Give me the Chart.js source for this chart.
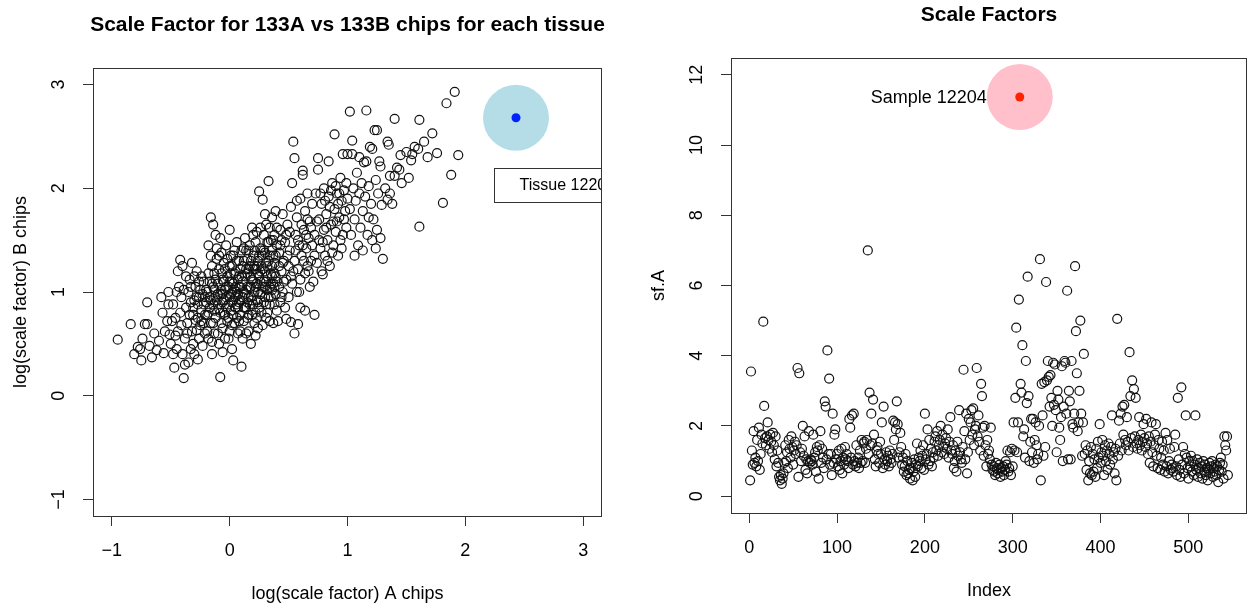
<!DOCTYPE html>
<html>
<head>
<meta charset="utf-8">
<script src="https://cdn.jsdelivr.net/npm/chart.js@4.4.1/dist/chart.umd.min.js"></script>
<style>
  html, body { margin: 0; padding: 0; background: #fff; }
  .panel { position: absolute; top: 0; width: 625px; height: 606px; }
  #leftPanel { left: 0; }
  #rightPanel { left: 625px; }
</style>
</head>
<body>
<div class="panel" id="leftPanel"><canvas id="chipChart" width="625" height="606"></canvas></div>
<div class="panel" id="rightPanel"><canvas id="sfChart" width="625" height="606"></canvas></div>
<script>
// left panel: log(scale factor) of A chips vs B chips, one pair per tissue
const tissuePairs = [
  [-0.95,0.54],[-0.84,0.69],[-0.70,0.90],[-0.74,0.55],[-0.81,0.40],[-0.75,0.34],[-0.66,0.37],[-0.72,0.69],
  [-0.70,0.69],[-0.57,0.80],[-0.60,0.53],[-0.55,0.62],[-0.78,0.47],[-0.68,0.48],[-0.62,0.44],[-0.53,0.72],
  [-0.58,0.95],[-0.52,0.88],[-0.64,0.60],[-0.50,0.50],[-0.56,0.41],[-0.52,1.00],[-0.51,0.59],[-0.76,0.45],
  [-0.47,0.27],[-0.39,0.17],[-0.42,1.31],[-0.45,0.45],[-0.44,0.62],[-0.46,0.75],[-0.48,0.88],[-0.41,0.95],
  [-0.43,1.05],[-0.40,0.40],[-0.38,0.55],[-0.36,0.70],[-0.37,0.85],[-0.35,1.00],[-0.34,1.12],[-0.33,0.45],
  [-0.32,0.62],[-0.31,0.78],[-0.30,0.92],[-0.29,1.05],[-0.28,1.20],[-0.27,0.35],[-0.26,0.55],[-0.25,0.68],
  [-0.24,0.83],[-0.23,0.98],[-0.22,1.10],[-0.21,0.60],[-0.44,1.20],[-0.40,1.25],[-0.37,1.15],[-0.35,0.32],
  [-0.31,0.50],[-0.29,0.73],[-0.27,0.88],[-0.25,1.02],[-0.23,0.48],[-0.21,0.78],[-0.46,0.58],[-0.42,0.80],
  [-0.39,1.02],[-0.33,0.90],[-0.30,0.40],[-0.26,0.95],[-0.24,1.15],[-0.22,0.70],[-0.48,0.40],[-0.36,0.60],
  [-0.28,0.63],[-0.20,0.90],[-0.45,1.00],[-0.41,0.68],[-0.34,0.78],[-0.32,1.28],[-0.38,0.30],[-0.49,0.72],
  [-0.19,0.62],[-0.18,0.80],[-0.18,1.45],[-0.17,0.95],[-0.17,1.10],[-0.16,1.72],[-0.16,0.70],[-0.15,1.25],
  [-0.15,0.52],[-0.14,1.65],[-0.14,0.88],[-0.13,1.02],[-0.13,1.18],[-0.12,0.75],[-0.12,1.55],[-0.11,0.92],
  [-0.11,1.32],[-0.10,0.60],[-0.10,1.08],[-0.09,0.84],[-0.09,1.22],[-0.08,0.18],[-0.08,0.98],[-0.07,0.70],
  [-0.07,1.38],[-0.06,0.90],[-0.06,1.12],[-0.05,0.80],[-0.05,1.28],[-0.04,0.55],[-0.04,1.02],[-0.03,0.95],
  [-0.03,1.45],[-0.02,0.72],[-0.02,1.15],[-0.01,0.88],[-0.01,1.05],[0.00,0.62],[0.00,1.60],[0.00,1.25],
  [0.01,0.98],[0.01,0.82],[0.02,1.10],[0.02,0.45],[0.03,0.34],[0.03,1.35],[0.03,0.92],[0.04,1.02],
  [0.04,0.70],[0.05,1.20],[0.05,0.85],[0.06,1.48],[0.06,1.00],[0.07,0.60],[0.07,1.12],[0.08,0.90],
  [0.08,1.30],[0.09,0.78],[0.09,1.05],[0.10,0.28],[-0.19,1.00],[-0.15,0.40],[-0.13,0.60],[-0.11,1.42],
  [-0.09,0.50],[-0.06,0.65],[-0.04,0.78],[-0.02,1.32],[0.00,0.95],[0.02,0.68],[0.04,1.40],[0.06,0.75],
  [0.08,1.15],[-0.17,0.85],[-0.14,1.05],[-0.10,0.88],[-0.07,1.02],[-0.03,0.85],[0.01,1.18],[0.05,0.95],
  [0.09,1.22],[-0.12,0.95],[-0.05,1.10],[0.02,0.90],[0.07,0.98],[-0.16,1.35],[-0.08,1.52],[-0.01,0.55],
  [0.03,1.08],[0.06,0.88],[-0.18,0.55],[-0.06,0.42],[0.09,0.62],[0.10,1.40],
  [0.11,0.95],[0.11,1.10],[0.12,0.72],[0.12,1.30],[0.13,0.85],[0.13,1.52],[0.14,1.02],[0.14,0.60],
  [0.15,1.18],[0.15,0.90],[0.16,1.40],[0.16,0.78],[0.17,1.05],[0.17,1.25],[0.18,0.95],[0.18,0.50],
  [0.19,1.12],[0.19,1.62],[0.20,0.88],[0.20,1.35],[0.21,1.00],[0.21,0.70],[0.22,1.22],[0.22,1.48],
  [0.23,0.92],[0.23,1.08],[0.24,1.30],[0.24,0.65],[0.25,1.15],[0.25,1.97],[0.26,0.98],[0.26,1.42],
  [0.27,1.25],[0.27,0.80],[0.28,1.89],[0.28,1.05],[0.29,1.55],[0.29,0.90],[0.30,1.20],[0.30,1.38],
  [0.31,0.75],[0.31,1.10],[0.32,1.48],[0.32,1.02],[0.33,2.07],[0.33,1.30],[0.34,0.88],[0.34,1.62],
  [0.35,1.18],[0.35,0.95],[0.36,1.40],[0.36,1.72],[0.37,1.08],[0.37,0.70],[0.38,1.28],[0.38,1.55],
  [0.39,0.98],[0.39,1.15],[0.40,1.45],[0.40,0.82],[0.12,1.00],[0.14,1.22],[0.16,0.95],[0.18,1.30],
  [0.20,1.10],[0.22,0.80],[0.24,1.00],[0.26,1.20],[0.28,1.35],[0.30,0.95],[0.32,1.25],[0.34,1.05],
  [0.36,1.25],[0.38,1.05],[0.13,1.15],[0.17,0.88],[0.21,1.25],[0.25,0.85],[0.29,1.10],[0.33,1.48],
  [0.37,1.35],[0.15,1.32],[0.19,0.78],[0.23,1.58],[0.27,1.40],[0.31,1.65],[0.35,1.50],[0.39,1.78],
  [0.11,0.55],[0.16,0.62],[0.22,0.58],[0.28,0.68],[0.34,0.72],[0.20,1.55],[0.26,1.62],[0.32,0.80],
  [0.38,0.88],[0.14,1.40],[0.30,1.75],[0.36,1.02],[0.24,1.18],[0.18,1.15],[0.12,0.85],[0.40,1.62],
  [-0.33,1.05],[-0.31,0.85],[-0.28,0.95],[-0.26,1.10],[-0.24,0.72],[-0.22,0.88],[-0.20,1.02],[-0.19,0.78],
  [-0.18,1.18],[-0.16,0.92],[-0.15,1.08],[-0.13,0.82],[-0.12,1.12],[-0.10,0.98],[-0.09,1.35],[-0.08,0.80],
  [-0.07,1.18],[-0.05,0.92],[-0.04,1.22],[-0.03,1.05],[-0.01,0.75],[0.00,1.10],[0.01,1.35],[0.02,1.00],
  [0.03,0.78],[0.04,1.18],[0.05,1.05],[0.06,1.30],[0.07,0.85],[0.08,1.05],[0.09,0.92],[0.10,1.15],
  [0.11,1.25],[0.12,1.42],[0.13,0.98],[0.14,0.85],[0.15,1.05],[0.16,1.22],[0.17,1.45],[0.18,1.05],
  [0.19,0.92],[0.20,1.22],[0.21,1.40],[0.22,1.05],[0.23,1.25],[0.24,0.90],[0.25,1.35],[0.26,1.10],
  [0.27,1.00],[0.28,1.22],[0.29,1.40],[0.30,1.05],[0.31,1.28],[0.32,1.15],[0.33,0.95],[0.34,1.35],
  [0.35,1.08],[0.36,1.15],[0.37,1.50],[0.38,1.18],[0.39,1.35],[0.40,1.10],[0.42,1.25],[0.43,1.45],
  [0.44,0.95],[-0.30,1.15],[-0.27,0.75],[-0.21,0.95],[-0.14,0.70],[-0.06,0.98],[0.02,1.25],[0.08,0.72],
  [0.15,0.75],[0.23,0.75],[0.31,0.88],
  [0.41,0.72],[0.48,0.74],[0.52,0.71],[0.55,0.60],[0.58,0.69],[0.60,0.85],[0.64,0.82],[0.72,0.78],
  [0.42,1.05],[0.42,1.38],[0.43,0.90],[0.43,1.60],[0.44,1.20],[0.45,1.75],[0.45,1.00],[0.46,1.30],
  [0.47,0.85],[0.47,1.48],[0.48,1.12],[0.49,1.65],[0.50,1.25],[0.50,0.95],[0.51,1.40],[0.52,1.82],
  [0.53,1.08],[0.53,2.05],[0.54,2.45],[0.55,2.29],[0.55,1.30],[0.56,1.55],[0.57,1.00],[0.57,1.72],
  [0.58,1.22],[0.59,1.45],[0.60,1.90],[0.60,1.12],[0.61,1.35],[0.62,2.17],[0.62,2.13],[0.63,1.60],
  [0.64,1.18],[0.64,1.78],[0.65,1.42],[0.66,1.25],[0.66,1.95],[0.67,1.52],[0.68,1.05],[0.68,1.68],
  [0.69,1.30],[0.70,1.85],[0.44,1.50],[0.46,1.10],[0.49,1.35],[0.51,1.58],[0.54,1.20],[0.56,1.40],
  [0.58,1.50],[0.61,1.65],[0.63,1.30],[0.65,1.55],[0.67,1.20],[0.69,1.62],[0.52,1.15],[0.59,1.00],
  [0.62,1.45],[0.66,1.70],[0.70,1.45],[0.48,1.55],[0.57,1.88],[0.45,1.28],
  [0.71,1.10],[0.72,1.55],[0.73,1.95],[0.74,1.28],[0.75,2.29],[0.75,2.18],[0.76,1.70],[0.77,1.42],
  [0.78,1.85],[0.79,1.17],[0.80,1.60],[0.80,2.00],[0.81,1.35],[0.82,1.75],[0.83,1.50],[0.84,2.26],
  [0.84,1.92],[0.85,1.25],[0.86,1.65],[0.87,2.05],[0.88,1.45],[0.89,2.52],[0.89,1.80],[0.90,1.58],
  [0.91,1.95],[0.92,1.35],[0.93,1.72],[0.94,2.10],[0.95,1.88],[0.96,2.33],[0.96,1.55],[0.97,1.98],
  [0.98,1.78],[0.99,1.62],[1.00,2.33],[1.00,1.90],[0.72,1.35],[0.74,1.68],[0.77,1.95],[0.79,1.48],
  [0.82,1.62],[0.85,1.82],[0.87,1.38],[0.90,2.02],[0.92,1.85],[0.94,1.50],[0.97,1.70],[0.99,2.05],
  [0.76,1.50],[0.81,1.88],[0.86,1.98],[0.91,1.68],[0.95,1.42],[0.78,1.20],[0.83,1.30],[0.88,1.68],
  [0.93,1.95],
  [1.02,2.74],[1.04,2.46],[1.04,2.33],[1.02,1.80],[1.03,1.55],[1.05,2.00],[1.06,1.70],[1.07,1.88],
  [1.08,2.15],[1.09,1.45],[1.10,1.95],[1.11,1.62],[1.12,2.05],[1.13,1.40],[1.13,1.78],[1.14,2.25],
  [1.15,1.92],[1.16,2.75],[1.16,2.26],[1.17,1.55],[1.18,2.02],[1.19,2.40],[1.20,1.85],[1.21,2.38],
  [1.21,1.50],[1.22,1.70],[1.23,2.56],[1.24,1.42],[1.25,2.56],[1.25,1.60],[1.26,1.95],[1.27,2.26],
  [1.28,2.21],[1.28,1.52],[1.29,1.84],[1.30,1.32],[1.06,1.35],[1.10,2.30],[1.18,1.72],[1.24,2.08],
  [1.32,2.00],[1.34,1.89],[1.34,2.45],[1.35,2.42],[1.36,2.12],[1.38,1.85],[1.40,2.67],[1.40,2.12],
  [1.42,2.20],[1.44,2.18],[1.46,2.05],[1.50,2.35],[1.54,2.27],[1.55,2.33],[1.57,2.40],[1.60,2.38],
  [1.61,2.66],[1.61,1.63],[1.65,2.45],[1.68,2.30],[1.72,2.53],[1.76,2.34],[1.81,1.86],[1.84,2.82],
  [1.88,2.13],[1.91,2.93],[1.94,2.32],[1.36,1.95],[1.45,2.32],[1.52,2.10]
];
const chipTicks = [-1, 0, 1, 2, 3];
const tissueA = [2.43];
const tissueB = [2.68];
const tissueName = "Tissue 12204";

// right panel: scale factor of each A chip, by index
const sfA = [
  0.45, 3.55, 1.3, 0.9, 1.85, 0.95, 1.1, 0.85, 1.6, 1.0,
  1.95, 0.75, 1.2, 1.75, 1.5, 4.97, 2.57, 1.65, 1.45, 1.7,
  2.1, 1.6, 1.35, 1.75, 1.55, 1.25, 1.8, 1.45, 1.05, 1.7,
  0.85, 1.3, 0.95, 0.55, 0.45, 0.6, 0.35, 0.5, 0.65, 0.95,
  1.45, 1.0, 1.25, 0.8, 1.6, 1.35, 1.1, 1.7, 1.4, 0.9,
  1.3, 1.55, 1.2, 1.45, 3.65, 0.55, 3.5, 1.25, 1.0, 1.35,
  2.0, 1.15, 1.7, 0.75, 1.05, 0.65, 1.0, 1.85, 0.95, 1.05,
  1.0, 0.9, 1.75, 1.1, 1.25, 0.7, 1.4, 1.3, 0.5, 1.45,
  1.85, 0.95, 1.35, 1.1, 0.8, 2.7, 2.55, 1.05, 4.15, 1.2,
  3.35, 0.9, 1.2, 0.6, 2.35, 0.95, 1.75, 1.9, 1.05, 1.2,
  0.85, 1.3, 0.75, 1.0, 1.35, 0.65, 1.1, 0.9, 1.4, 1.05,
  1.2, 1.0, 0.8, 2.2, 1.95, 1.1, 2.3, 0.9, 2.35, 1.0,
  0.85, 1.45, 0.95, 1.1, 0.8, 1.3, 0.95, 1.6, 1.0, 1.5,
  1.55, 0.95, 1.35, 1.6, 7.0, 1.2, 2.95, 1.45, 2.35, 1.5,
  2.75, 1.75, 1.05, 0.85, 1.3, 1.4, 1.2, 0.95, 1.55, 1.2,
  2.1, 0.8, 2.55, 1.05, 0.9, 1.25, 1.0, 1.15, 0.85, 1.3,
  1.05, 0.95, 1.2, 2.15, 1.6, 2.1, 1.9, 2.7, 2.05, 1.1,
  1.25, 1.8, 1.4, 0.9, 1.1, 0.7, 0.85, 1.2, 0.6, 1.0,
  0.65, 0.75, 0.5, 0.8, 0.95, 0.45, 0.7, 1.05, 0.55, 0.9,
  1.5, 0.85, 1.1, 1.0, 1.3, 0.8, 1.15, 1.45, 0.75, 2.35,
  1.05, 1.2, 1.9, 0.9, 1.6, 1.0, 1.35, 0.85, 1.25, 1.1,
  1.55, 1.7, 1.3, 1.85, 1.15, 1.45, 1.6, 2.0, 1.25, 1.75,
  1.4, 1.2, 1.5, 1.65, 1.35, 1.9, 1.1, 1.55, 2.25, 1.3,
  1.2, 1.45, 0.8, 1.0, 1.3, 0.7, 1.55, 1.15, 2.45, 1.25,
  1.05, 0.95, 1.4, 3.6, 1.85, 1.05, 2.35, 0.65, 1.25, 2.2,
  1.6, 2.1, 2.45, 1.75, 2.5, 1.45, 1.9, 2.0, 3.65, 1.7,
  2.3, 1.55, 1.3, 3.2, 2.85, 1.95, 1.15, 2.0, 1.45, 0.85,
  1.6, 1.2, 1.3, 1.05, 1.95, 0.9, 0.75, 0.85, 0.7, 0.6,
  0.95, 0.8, 0.65, 0.75, 0.9, 0.55, 0.8, 0.7, 0.85, 0.6,
  0.75, 1.0, 0.9, 1.3, 0.7, 0.8, 1.25, 0.6, 1.35, 0.85,
  2.1, 1.3, 2.8, 4.8, 1.25, 2.1, 5.6, 11.37, 3.2, 2.95,
  4.3, 1.7, 1.9, 1.1, 3.85, 2.65, 6.25, 2.85, 1.0, 1.55,
  2.2, 1.25, 2.2, 0.95, 1.6, 2.1, 1.45, 1.05, 1.2, 2.0,
  6.75, 0.45, 3.2, 2.3, 1.15, 3.25, 1.4, 6.1, 3.3, 3.85,
  3.4, 2.55, 3.45, 2.8, 2.0, 3.8, 2.6, 3.75, 2.45, 1.25,
  3.0, 2.75, 1.95, 1.6, 2.25, 3.7, 1.0, 2.55, 3.85, 3.8,
  2.35, 5.85, 1.05, 3.0, 2.7, 1.05, 3.85, 2.05, 1.95, 2.35,
  6.55, 4.7, 3.5, 1.85, 2.1, 3.0, 5.0, 2.35, 1.15, 2.1,
  4.05, 1.2, 1.45, 0.75, 1.3, 0.45, 1.0, 0.65, 1.4, 0.6,
  1.2, 0.7, 1.05, 0.55, 1.35, 0.8, 1.55, 1.1, 2.05, 0.95,
  1.25, 1.6, 1.15, 0.6, 1.45, 1.0, 1.3, 0.75, 1.5, 1.2,
  0.9, 1.4, 2.3, 1.05, 1.25, 0.65, 1.35, 0.45, 5.05, 1.15,
  2.15, 1.5, 2.35, 1.3, 2.55, 1.75, 2.6, 1.6, 1.45, 2.25,
  1.55, 1.3, 4.1, 2.85, 1.65, 3.3, 1.4, 3.05, 1.7, 2.8,
  1.5, 1.35, 1.6, 2.25, 1.45, 1.75, 1.3, 1.55, 2.05, 1.65,
  1.4, 2.2, 1.5, 1.2, 1.7, 0.95, 1.55, 2.1, 1.25, 0.85,
  1.45, 1.75, 2.05, 1.15, 0.8, 1.6, 1.35, 0.75, 1.1, 1.55,
  0.9, 1.3, 0.7, 1.8, 0.85, 1.6, 0.65, 1.0, 1.35, 0.75,
  0.9, 0.8, 0.7, 1.4, 1.75, 0.85, 0.6, 2.8, 1.05, 0.75,
  0.55, 3.1, 0.9, 1.4, 0.65, 1.2, 2.3, 1.1, 0.8, 0.5,
  1.0, 0.85, 1.15, 0.7, 1.0, 0.6, 0.9, 2.3, 0.75, 1.05,
  0.55, 0.8, 0.95, 0.65, 0.85, 0.5, 1.0, 0.7, 0.9, 0.6,
  0.8, 0.45, 0.75, 0.95, 0.65, 0.85, 1.0, 0.55, 0.8, 0.7,
  0.9, 0.6, 0.85, 0.4, 0.75, 0.95, 1.1, 0.7, 0.9, 0.5,
  1.7, 1.45, 1.3, 1.7, 0.6
];
const indexTicks = [0, 100, 200, 300, 400, 500];
const sfTicks = [0, 2, 4, 6, 8, 10, 12];
const sampleIndex = [308];
const sampleSf = [11.37];
const sampleName = "Sample 12204";

const FONT = '"Liberation Sans", Arial, Helvetica, sans-serif';
const AXIS = "#333";

function minus(v) {
  return String(v).replace("-", "\u2212");
}

// R-like frame, rotated y tick labels and the titles
const rFrame = {
  id: "rFrame",
  afterDraw(chart, args, opts) {
    const { ctx, chartArea: a, scales } = chart;
    ctx.save();
    ctx.strokeStyle = AXIS;
    ctx.lineWidth = 1;
    ctx.strokeRect(Math.round(a.left) + 0.5, Math.round(a.top) + 0.5,
      Math.round(a.right - a.left) - 1, Math.round(a.bottom - a.top));

    ctx.fillStyle = "#000";
    ctx.textAlign = "center";
    ctx.textBaseline = "middle";
    ctx.font = `18px ${FONT}`;
    scales.y.ticks.forEach((t) => {
      const y = scales.y.getPixelForValue(t.value);
      ctx.save();
      ctx.translate(a.left - 34, y);
      ctx.rotate(-Math.PI / 2);
      ctx.fillText(minus(t.value), 0, 0);
      ctx.restore();
    });

    const midX = (a.left + a.right) / 2;
    const midY = (a.top + a.bottom) / 2;
    ctx.fillText(opts.xTitle, midX, a.bottom + 78);
    ctx.save();
    ctx.translate(a.left - 72, midY);
    ctx.rotate(-Math.PI / 2);
    ctx.fillText(opts.yTitle, 0, 0);
    ctx.restore();

    ctx.font = `bold 21px ${FONT}`;
    ctx.fillText(opts.title, midX, a.top - 43);
    ctx.restore();
  },
};

function xScale(min, max, tickValues, height) {
  return {
    type: "linear",
    min: min,
    max: max,
    afterBuildTicks: (scale) => {
      scale.ticks = tickValues.map((v) => ({ value: v }));
    },
    afterFit: (scale) => {
      scale.height = height;
      scale.paddingLeft = 0;
      scale.paddingRight = 0;
    },
    ticks: {
      color: "#000",
      font: { family: FONT, size: 18 },
      padding: 14,
      maxRotation: 0,
      callback: (v) => minus(v),
    },
    grid: { drawOnChartArea: false, drawTicks: true, tickLength: 10, color: AXIS },
    border: { display: false },
  };
}

function yScale(min, max, tickValues, width) {
  return {
    type: "linear",
    min: min,
    max: max,
    afterBuildTicks: (scale) => {
      scale.ticks = tickValues.map((v) => ({ value: v }));
    },
    afterFit: (scale) => {
      scale.width = width;
      scale.paddingTop = 0;
      scale.paddingBottom = 0;
    },
    ticks: { display: false },
    grid: { drawOnChartArea: false, drawTicks: true, tickLength: 10, color: AXIS },
    border: { display: false },
  };
}

const baseOptions = {
  responsive: false,
  animation: false,
  devicePixelRatio: 1,
  events: [],
  plugins: { legend: { display: false }, tooltip: { enabled: false } },
};

// ---- left chart ----
const tissueBox = {
  id: "tissueBox",
  afterDatasetsDraw(chart) {
    const { ctx, chartArea: a, scales } = chart;
    const left = scales.x.getPixelForValue(2.24);
    const top = scales.y.getPixelForValue(2.2);
    const bottom = scales.y.getPixelForValue(1.87);
    ctx.save();
    ctx.beginPath();
    ctx.rect(a.left, a.top, a.right - a.left, a.bottom - a.top);
    ctx.clip();
    ctx.fillStyle = "#fff";
    ctx.fillRect(left, top, 200, bottom - top);
    ctx.strokeStyle = AXIS;
    ctx.lineWidth = 1;
    ctx.strokeRect(Math.round(left) + 0.5, Math.round(top) + 0.5, 200, Math.round(bottom - top));
    ctx.fillStyle = "#000";
    ctx.font = `16px ${FONT}`;
    ctx.textAlign = "left";
    ctx.textBaseline = "middle";
    ctx.fillText(tissueName, left + 26, (top + bottom) / 2 + 1);
    ctx.restore();
  },
};

new Chart(document.getElementById("chipChart"), {
  type: "scatter",
  data: {
    datasets: [
      {
        data: tissueA.map((v, i) => ({ x: v, y: tissueB[i] })),
        pointRadius: 4.5,
        pointBackgroundColor: "#0022ff",
        pointBorderWidth: 0,
        order: 0,
      },
      {
        data: tissueA.map((v, i) => ({ x: v, y: tissueB[i] })),
        pointRadius: 33,
        pointBackgroundColor: "#b5dde8",
        pointBorderWidth: 0,
        order: 1,
      },
      {
        data: tissuePairs.map((p) => ({ x: p[0], y: p[1] })),
        pointRadius: 4.5,
        pointBackgroundColor: "rgba(0,0,0,0)",
        pointBorderColor: "#111",
        pointBorderWidth: 1.2,
        order: 2,
      },
    ],
  },
  options: {
    ...baseOptions,
    layout: { autoPadding: false, padding: { top: 68, right: 23, left: 0, bottom: 0 } },
    scales: {
      x: xScale(-1.16, 3.16, chipTicks, 90),
      y: yScale(-1.16, 3.16, chipTicks, 93),
    },
    plugins: {
      ...baseOptions.plugins,
      rFrame: {
        title: "Scale Factor for 133A vs 133B chips for each tissue",
        xTitle: "log(scale factor) A chips",
        yTitle: "log(scale factor) B chips",
      },
    },
  },
  plugins: [rFrame, tissueBox],
});

// ---- right chart ----
const sampleLabel = {
  id: "sampleLabel",
  afterDatasetsDraw(chart) {
    const { ctx, scales } = chart;
    const x = scales.x.getPixelForValue(sampleIndex[0]);
    const y = scales.y.getPixelForValue(sampleSf[0]);
    ctx.save();
    ctx.fillStyle = "#000";
    ctx.font = `18px ${FONT}`;
    ctx.textAlign = "right";
    ctx.textBaseline = "middle";
    ctx.fillText(sampleName, x - 33, y + 1);
    ctx.restore();
  },
};

new Chart(document.getElementById("sfChart"), {
  type: "scatter",
  data: {
    datasets: [
      {
        data: sampleIndex.map((v, i) => ({ x: v, y: sampleSf[i] })),
        pointRadius: 4.5,
        pointBackgroundColor: "#ff2200",
        pointBorderWidth: 0,
        order: 0,
      },
      {
        data: sampleIndex.map((v, i) => ({ x: v, y: sampleSf[i] })),
        pointRadius: 33,
        pointBackgroundColor: "#ffc0cb",
        pointBorderWidth: 0,
        order: 1,
      },
      {
        data: sfA.map((v, i) => ({ x: i + 1, y: v })),
        pointRadius: 4.5,
        pointBackgroundColor: "rgba(0,0,0,0)",
        pointBorderColor: "#111",
        pointBorderWidth: 1.2,
        order: 2,
      },
    ],
  },
  options: {
    ...baseOptions,
    layout: { autoPadding: false, padding: { top: 58, right: 3, left: 0, bottom: 0 } },
    scales: {
      x: xScale(-20.76, 566.76, indexTicks, 93),
      y: yScale(-0.48, 12.48, sfTicks, 106),
    },
    plugins: {
      ...baseOptions.plugins,
      rFrame: { title: "Scale Factors", xTitle: "Index", yTitle: "sf.A" },
    },
  },
  plugins: [rFrame, sampleLabel],
});
</script>
</body>
</html>
